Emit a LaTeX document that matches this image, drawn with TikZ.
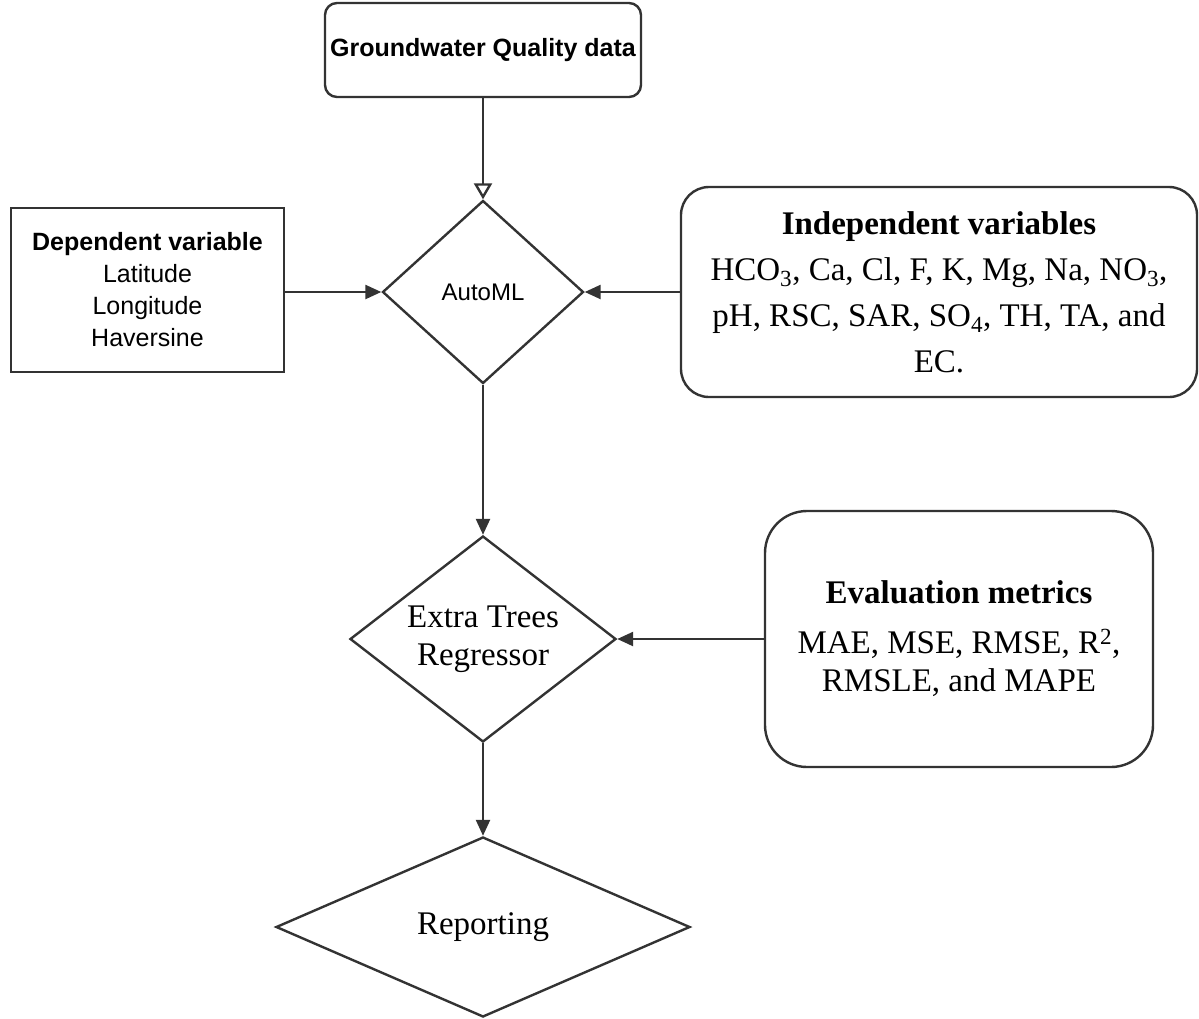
\documentclass[tikz,border=0pt]{standalone}
\usepackage{fontspec}
\setmainfont{Liberation Serif}
\setsansfont{Liberation Sans}
\usetikzlibrary{shapes.geometric,arrows.meta}
\begin{document}
\begin{tikzpicture}[x=1pt,y=-1pt,
  line width=2.4pt,
  edge/.style={draw=black!80, line width=2.4pt},
  dia/.style={edge, shape=diamond, inner sep=0pt},
  rbox/.style={edge, rounded corners=#1, inner sep=0pt},
  sbox/.style={edge, inner sep=0pt},
  arr/.style={edge, -{Triangle[length=16pt,width=14pt]}},
  oarr/.style={edge, -{Triangle[open,length=16pt,width=18pt]}},
  sanstxt/.style={font=\sffamily\fontsize{25}{32}\selectfont, align=center, text=black},
  seriftxt/.style={font=\fontsize{33}{38}\selectfont, align=center, text=black}
]
\useasboundingbox (0,0) rectangle (1199,1018);

% boxes
\node[rbox=12pt, minimum width=316pt, minimum height=94pt, sanstxt] (gw) at (483,50) {\bfseries Groundwater Quality data};
\node[sbox, minimum width=273pt, minimum height=164pt, sanstxt] (dep) at (147.5,290) {\bfseries Dependent variable\\Latitude\\Longitude\\Haversine};
\node[rbox=28pt, minimum width=516pt, minimum height=210pt, seriftxt, font=\fontsize{33}{46}\selectfont] (ind) at (939,292)
  {\textbf{Independent variables}\\HCO\textsubscript{3}, Ca, Cl, F, K, Mg, Na, NO\textsubscript{3},\\pH, RSC, SAR, SO\textsubscript{4}, TH, TA, and\\EC.};
\node[rbox=42pt, minimum width=388pt, minimum height=256pt, seriftxt] (eval) at (959,639)
  {\textbf{Evaluation metrics}\\[12pt]MAE, MSE, RMSE, R\textsuperscript{2},\\RMSLE, and MAPE};

% diamonds
\node[dia, minimum width=201pt, minimum height=183pt] (auto) at (483,292) {};
\node[sanstxt, font=\sffamily\fontsize{24}{30}\selectfont] (autot) at (auto.center) {AutoML};
\node[dia, minimum width=266pt, minimum height=206pt] (et) at (483,639) {};
\node[seriftxt] (ett) at (et.center) {Extra Trees\\Regressor};
\node[dia, minimum width=414pt, minimum height=180pt] (rep) at (483,927) {};
\node[seriftxt] (rept) at (rep.center) {Reporting};

% connectors
\draw[oarr] (gw.south) -- (auto.north);
\draw[arr] (dep.east |- auto.west) -- (auto.west);
\draw[arr] (ind.west) -- (auto.east);
\draw[arr] (auto.south) -- (et.north);
\draw[arr] (eval.west) -- (et.east);
\draw[arr] (et.south) -- (rep.north);
\end{tikzpicture}
\end{document}
